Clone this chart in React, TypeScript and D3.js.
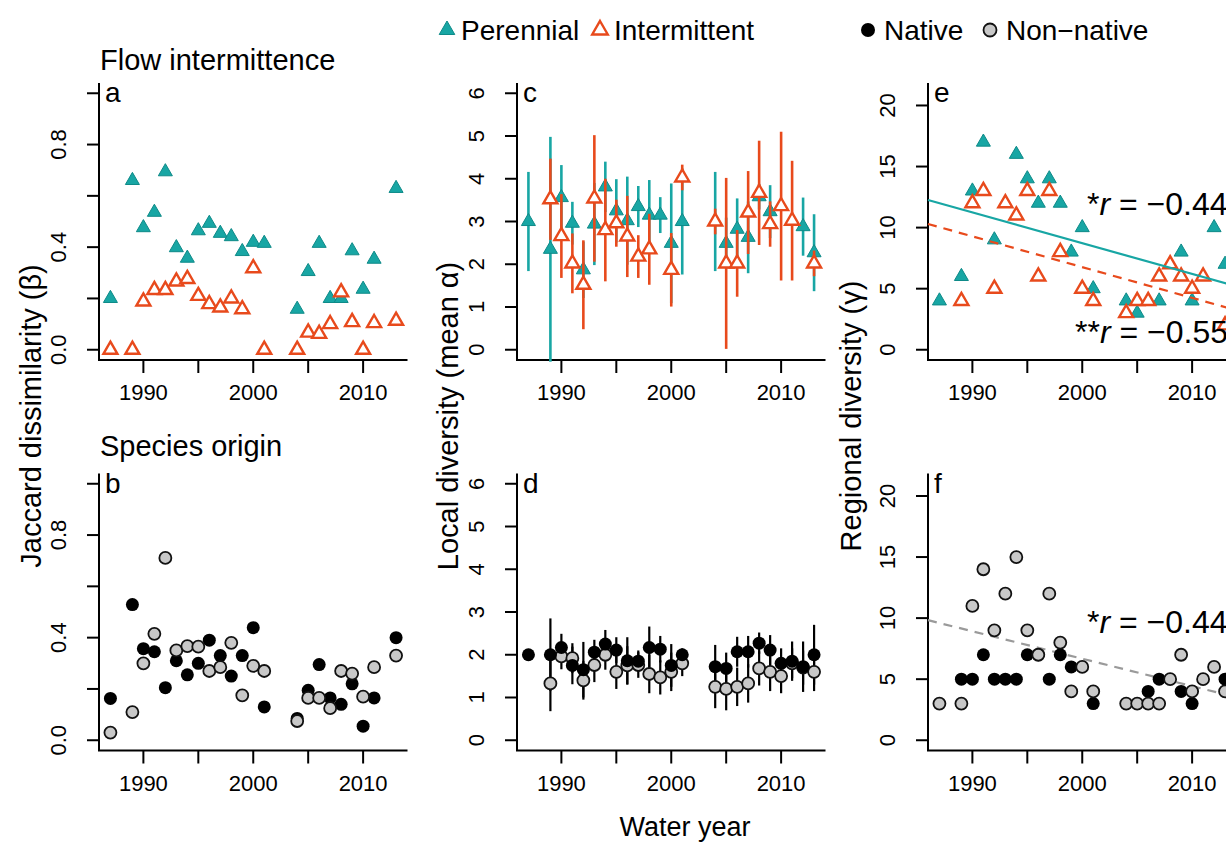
import React from "react";
import * as d3 from "d3";

// ---------- data ----------
const xTickYears = [1990, 1995, 2000, 2005, 2010];
const xLabelYears = [1990, 2000, 2010];
const jaccardTicks = [0, 0.2, 0.4, 0.6, 0.8, 1.0];
const jaccardLabels = [0, 0.4, 0.8];
const localTicks = [0, 1, 2, 3, 4, 5, 6];
const regionalTicks = [0, 5, 10, 15, 20];

// Jaccard dissimilarity [year, value]
const jaccardPerennial = [
  [1987, 0.2], [1989, 0.66], [1990, 0.476], [1991, 0.536], [1992, 0.694], [1993, 0.398], [1994, 0.357],
  [1995, 0.464], [1996, 0.493], [1997, 0.454], [1998, 0.441], [1999, 0.383], [2000, 0.419], [2001, 0.415],
  [2004, 0.158], [2005, 0.305], [2006, 0.415], [2007, 0.2], [2008, 0.2], [2009, 0.386], [2010, 0.236],
  [2011, 0.353], [2013, 0.629],
];
const jaccardIntermittent = [
  [1987, 0], [1989, 0], [1990, 0.188], [1991, 0.233], [1992, 0.233], [1993, 0.266], [1994, 0.276],
  [1995, 0.21], [1996, 0.178], [1997, 0.165], [1998, 0.2], [1999, 0.158], [2000, 0.318], [2001, 0],
  [2004, 0], [2005, 0.067], [2006, 0.062], [2007, 0.1], [2008, 0.224], [2009, 0.108], [2010, 0],
  [2011, 0.104], [2013, 0.113],
];
const jaccardNative = [
  [1987, 0.163], [1989, 0.529], [1990, 0.357], [1991, 0.345], [1992, 0.205], [1993, 0.31], [1994, 0.255],
  [1995, 0.3], [1996, 0.39], [1997, 0.33], [1998, 0.25], [1999, 0.33], [2000, 0.439], [2001, 0.13],
  [2004, 0.085], [2005, 0.195], [2006, 0.295], [2007, 0.165], [2008, 0.14], [2009, 0.22], [2010, 0.055],
  [2011, 0.165], [2013, 0.4],
];
const jaccardNonNative = [
  [1987, 0.03], [1989, 0.11], [1990, 0.3], [1991, 0.415], [1992, 0.711], [1993, 0.35], [1994, 0.367],
  [1995, 0.365], [1996, 0.27], [1997, 0.285], [1998, 0.38], [1999, 0.175], [2000, 0.29], [2001, 0.27],
  [2004, 0.075], [2005, 0.165], [2006, 0.165], [2007, 0.125], [2008, 0.27], [2009, 0.26], [2010, 0.17],
  [2011, 0.285], [2013, 0.33],
];

// Local diversity [year, mean, half-range]
const localPerennial = [
  [1987, 3.0, 1.16], [1989, 2.35, 2.63], [1990, 3.56, 0.76], [1991, 2.96, 0.5], [1992, 1.87, 0.66],
  [1993, 2.94, 0.96], [1994, 3.81, 0.59], [1995, 3.25, 0.74], [1996, 3.02, 1.03], [1997, 3.35, 0.48],
  [1998, 3.15, 0.82], [1999, 3.15, 0.42], [2000, 2.49, 1.4], [2001, 3.0, 1.24], [2004, 3.0, 1.16],
  [2005, 2.49, 0.6], [2006, 2.82, 0.72], [2007, 2.63, 0.84], [2008, 3.58, 0.3], [2009, 3.23, 0.62],
  [2012, 2.88, 0.68], [2013, 2.27, 0.9],
];
const localIntermittent = [
  [1989, 3.52, 0.95], [1990, 2.66, 0.98], [1991, 2.02, 0.7], [1992, 1.52, 1.04], [1993, 3.54, 1.48],
  [1994, 2.8, 1.2], [1995, 2.96, 0.55], [1996, 2.65, 0.95], [1997, 2.18, 0.5], [1998, 2.35, 0.83],
  [2000, 1.87, 0.86], [2001, 4.03, 0.3], [2004, 3.0, 0.3], [2005, 2.02, 2.0], [2006, 2.02, 0.78],
  [2007, 3.21, 0.97], [2008, 3.67, 1.22], [2009, 2.94, 0.53], [2010, 3.36, 1.74], [2011, 3.02, 1.4],
  [2013, 2.02, 0.3],
];
const localNative = [
  [1987, 2.0, 0], [1989, 2.0, 0.85], [1990, 2.17, 0.32], [1991, 1.75, 0.44], [1992, 1.65, 0.65],
  [1993, 2.06, 0.29], [1994, 2.25, 0.33], [1995, 2.11, 0.3], [1996, 1.86, 0.55], [1997, 1.85, 0.25],
  [1998, 2.17, 0.49], [1999, 2.13, 0.31], [2000, 1.75, 0.5], [2001, 2.0, 0.15], [2004, 1.72, 0.51],
  [2005, 1.68, 0.37], [2006, 2.07, 0.35], [2007, 2.07, 0.37], [2008, 2.27, 0.25], [2009, 2.11, 0.35],
  [2010, 1.8, 0.35], [2011, 1.85, 0.46], [2012, 1.72, 0.59], [2013, 2.0, 0.7],
];
const localNonNative = [
  [1989, 1.33, 0.65], [1990, 1.96, 0.3], [1991, 1.92, 0.35], [1992, 1.4, 0.45], [1993, 1.76, 0.4],
  [1994, 2.0, 0.35], [1995, 1.6, 0.4], [1996, 1.75, 0.45], [1997, 1.76, 0.3], [1998, 1.55, 0.45],
  [1999, 1.47, 0.4], [2000, 1.6, 0.45], [2001, 1.8, 0.3], [2004, 1.25, 0.5], [2005, 1.2, 0.5],
  [2006, 1.25, 0.45], [2007, 1.33, 0.45], [2008, 1.68, 0.4], [2009, 1.6, 0.45], [2010, 1.5, 0.4],
  [2011, 1.8, 0.35], [2012, 1.7, 0.4], [2013, 1.6, 0.45],
];

// Regional diversity [year, value]
const regionalPerennial = [
  [1987, 4], [1989, 6], [1990, 13], [1991, 17], [1992, 9], [1994, 16], [1995, 14], [1996, 12], [1997, 14],
  [1998, 12], [1999, 8], [2000, 10], [2001, 5], [2004, 4], [2005, 3], [2007, 4], [2009, 8], [2010, 4],
  [2012, 10], [2013, 7],
];
const regionalIntermittent = [
  [1989, 4], [1990, 12], [1991, 13], [1992, 5], [1993, 12], [1994, 11], [1995, 13], [1996, 6], [1997, 13],
  [1998, 8], [2000, 5], [2001, 4], [2004, 3], [2005, 4], [2006, 4], [2007, 6], [2008, 7], [2009, 6],
  [2010, 5], [2011, 6], [2013, 2],
];
const regionalNative = [
  [1989, 5], [1990, 5], [1991, 7], [1992, 5], [1993, 5], [1994, 5], [1995, 7], [1996, 7], [1997, 5],
  [1998, 7], [1999, 6], [2001, 3], [2006, 4], [2007, 5], [2009, 4], [2010, 3], [2013, 5],
];
const regionalNonNative = [
  [1987, 3], [1989, 3], [1990, 11], [1991, 14], [1992, 9], [1993, 12], [1994, 15], [1995, 9], [1996, 7],
  [1997, 12], [1998, 8], [1999, 4], [2000, 6], [2001, 4], [2004, 3], [2005, 3], [2006, 3], [2007, 3],
  [2008, 5], [2009, 7], [2010, 4], [2011, 5], [2012, 6], [2013, 4],
];

// Fitted trend lines [year, value] at the plot edges
const trendPerennial = [[1985.96, 12.26], [2014.04, 5.19]];
const trendIntermittent = [[1985.96, 10.3], [2014.04, 3.23]];
const trendNonNative = [[1985.96, 9.83], [2014.04, 3.52]];

const legendItems = ["Perennial", "Intermittent", "Native", "Non\u2212native"];

// ---------- style ----------
const FONT = "'Liberation Sans', Arial, Helvetica, sans-serif";
const TEAL = "#18a6a4";
const TEAL_DARK = "#0e8a88";
const ORANGE = "#e84a1c";
const GREY_FILL = "#c8c8c8";
const TICK_FS = 22;

const colLeft = [99, 517, 928];
const rowBottom = [360, 750.5];
const plotW = 308.5;
const plotH = 277;
const xDomain = [1985.96, 2014.04];

const xScale = (col: number) =>
  d3.scaleLinear().domain(xDomain).range([colLeft[col], colLeft[col] + plotW]);
const yScale = (row: number, dom: number[]) =>
  d3.scaleLinear().domain(dom).range([rowBottom[row], rowBottom[row] - plotH]);

const triPath = d3.symbol().type(d3.symbolTriangle).size(85)()!;
const triPathBig = d3.symbol().type(d3.symbolTriangle).size(105)()!;

function Tri({ x, y, open, big }: { x: number; y: number; open?: boolean; big?: boolean }) {
  const p = big ? triPathBig : triPath;
  return open ? (
    <path d={p} transform={`translate(${x},${y})`} fill="#fff" stroke={ORANGE} strokeWidth={2.4} />
  ) : (
    <path d={p} transform={`translate(${x},${y})`} fill={TEAL} stroke={TEAL_DARK} strokeWidth={1} />
  );
}

function Dot({ x, y, grey, r }: { x: number; y: number; grey?: boolean; r?: number }) {
  return grey ? (
    <circle cx={x} cy={y} r={r ?? 6} fill={GREY_FILL} stroke="#111" strokeWidth={1.8} />
  ) : (
    <circle cx={x} cy={y} r={(r ?? 6) + 0.5} fill="#000" />
  );
}

function Axes({ x, y, yTicks, yLabels, fmt, letter }: any) {
  const [x0, x1] = x.range();
  const [yb, yt] = y.range();
  return (
    <g>
      <path d={`M${x0},${yt}V${yb}H${x1}`} fill="none" stroke="#000" strokeWidth={2} />
      {xTickYears.map((t) => (
        <line key={"xt" + t} x1={x(t)} x2={x(t)} y1={yb} y2={yb + 13} stroke="#000" strokeWidth={2} />
      ))}
      {xLabelYears.map((t) => (
        <text key={"xl" + t} x={x(t)} y={yb + 40} textAnchor="middle" fontSize={TICK_FS}>
          {t}
        </text>
      ))}
      {yTicks.map((t: number) => (
        <line key={"yt" + t} x1={x0 - 12} x2={x0} y1={y(t)} y2={y(t)} stroke="#000" strokeWidth={2} />
      ))}
      {yLabels.map((t: number) => (
        <text
          key={"yl" + t}
          transform={`translate(${x0 - 33},${y(t)}) rotate(-90)`}
          textAnchor="middle"
          fontSize={TICK_FS}
        >
          {fmt(t)}
        </text>
      ))}
      <text x={x0 + 6} y={yt + 19} fontSize={28}>
        {letter}
      </text>
    </g>
  );
}

function ErrBar({ x, y, d, color, w }: any) {
  const [yr, m, h] = d;
  return <line x1={x(yr)} x2={x(yr)} y1={y(m - h)} y2={y(m + h)} stroke={color} strokeWidth={w} />;
}

export default function App() {
  const jacDom = [-0.04, 1.04];
  const locDom = [-0.24, 6.24];
  const regDom = [-0.84, 21.84];

  const xa = xScale(0), xc = xScale(1), xe = xScale(2);
  const ya = yScale(0, jacDom), yb = yScale(1, jacDom);
  const yc = yScale(0, locDom), yd = yScale(1, locDom);
  const ye = yScale(0, regDom), yf = yScale(1, regDom);
  const f1 = (v: number) => v.toFixed(1);
  const f0 = (v: number) => String(v);
  const line = (xs: any, ys: any) => d3.line<number[]>().x((d) => xs(d[0])).y((d) => ys(d[1]));

  return (
    <svg width={1226} height={842} style={{ position: "absolute", left: 0, top: 0, fontFamily: FONT }} fill="#000">
      <rect width={1226} height={842} fill="#fff" />

      {/* legend */}
      <g fontSize={28}>
        <Tri x={447} y={30} big />
        <text x={461} y={40}>{legendItems[0]}</text>
        <Tri x={600} y={30} open big />
        <text x={614} y={40}>{legendItems[1]}</text>
        <Dot x={868} y={30} r={6.5} />
        <text x={884} y={40}>{legendItems[2]}</text>
        <Dot x={990} y={30} grey r={6.5} />
        <text x={1006} y={40}>{legendItems[3]}</text>
      </g>

      {/* section titles */}
      <text x={100} y={70} fontSize={29}>Flow intermittence</text>
      <text x={100} y={456} fontSize={29}>Species origin</text>

      {/* axis titles */}
      <text transform="translate(41,416) rotate(-90)" textAnchor="middle" fontSize={29}>
        Jaccard dissimilarity (β)
      </text>
      <text transform="translate(458,416) rotate(-90)" textAnchor="middle" fontSize={29}>
        Local diversity (mean α)
      </text>
      <text transform="translate(861,416) rotate(-90)" textAnchor="middle" fontSize={29}>
        Regional diversity (γ)
      </text>
      <text x={685} y={836} textAnchor="middle" fontSize={27}>Water year</text>

      {/* panel a */}
      <Axes x={xa} y={ya} yTicks={jaccardTicks} yLabels={jaccardLabels} fmt={f1} letter="a" />
      {jaccardPerennial.map((d) => <Tri key={"ap" + d[0]} x={xa(d[0])} y={ya(d[1])} />)}
      {jaccardIntermittent.map((d) => <Tri key={"ai" + d[0]} x={xa(d[0])} y={ya(d[1])} open />)}

      {/* panel b */}
      <Axes x={xa} y={yb} yTicks={jaccardTicks} yLabels={jaccardLabels} fmt={f1} letter="b" />
      {jaccardNative.map((d) => <Dot key={"bn" + d[0]} x={xa(d[0])} y={yb(d[1])} />)}
      {jaccardNonNative.map((d) => <Dot key={"bx" + d[0]} x={xa(d[0])} y={yb(d[1])} grey />)}

      {/* panel c */}
      <Axes x={xc} y={yc} yTicks={localTicks} yLabels={localTicks} fmt={f0} letter="c" />
      {localPerennial.map((d) => <ErrBar key={"cpe" + d[0]} x={xc} y={yc} d={d} color={TEAL} w={2.6} />)}
      {localPerennial.map((d) => <Tri key={"cp" + d[0]} x={xc(d[0])} y={yc(d[1])} />)}
      {localIntermittent.map((d) => <ErrBar key={"cie" + d[0]} x={xc} y={yc} d={d} color={ORANGE} w={2.6} />)}
      {localIntermittent.map((d) => <Tri key={"ci" + d[0]} x={xc(d[0])} y={yc(d[1])} open />)}

      {/* panel d */}
      <Axes x={xc} y={yd} yTicks={localTicks} yLabels={localTicks} fmt={f0} letter="d" />
      {localNonNative.map((d) => <ErrBar key={"dxe" + d[0]} x={xc} y={yd} d={d} color="#000" w={2.2} />)}
      {localNative.map((d) => <ErrBar key={"dne" + d[0]} x={xc} y={yd} d={d} color="#000" w={2.2} />)}
      {localNonNative.map((d) => <Dot key={"dx" + d[0]} x={xc(d[0])} y={yd(d[1])} grey />)}
      {localNative.map((d) => <Dot key={"dn" + d[0]} x={xc(d[0])} y={yd(d[1])} />)}

      {/* panel e */}
      <Axes x={xe} y={ye} yTicks={regionalTicks} yLabels={regionalTicks} fmt={f0} letter="e" />
      {regionalPerennial.map((d) => <Tri key={"ep" + d[0]} x={xe(d[0])} y={ye(d[1])} />)}
      {regionalIntermittent.map((d) => <Tri key={"ei" + d[0]} x={xe(d[0])} y={ye(d[1])} open />)}
      <path d={line(xe, ye)(trendPerennial as any)!} stroke={TEAL} strokeWidth={2.2} fill="none" />
      <path d={line(xe, ye)(trendIntermittent as any)!} stroke={ORANGE} strokeWidth={2.2} strokeDasharray="9,7" fill="none" />
      <text x={1087} y={215} fontSize={32}>
        *<tspan fontStyle="italic">r</tspan> = −0.44
      </text>
      <text x={1075} y={343} fontSize={32}>
        **<tspan fontStyle="italic">r</tspan> = −0.55
      </text>

      {/* panel f */}
      <Axes x={xe} y={yf} yTicks={regionalTicks} yLabels={regionalTicks} fmt={f0} letter="f" />
      <path d={line(xe, yf)(trendNonNative as any)!} stroke="#9a9a9a" strokeWidth={2.2} strokeDasharray="9,7" fill="none" />
      {regionalNative.map((d) => <Dot key={"fn" + d[0]} x={xe(d[0])} y={yf(d[1])} />)}
      {regionalNonNative.map((d) => <Dot key={"fx" + d[0]} x={xe(d[0])} y={yf(d[1])} grey />)}
      <text x={1087} y={633} fontSize={32}>
        *<tspan fontStyle="italic">r</tspan> = −0.44
      </text>
    </svg>
  );
}
